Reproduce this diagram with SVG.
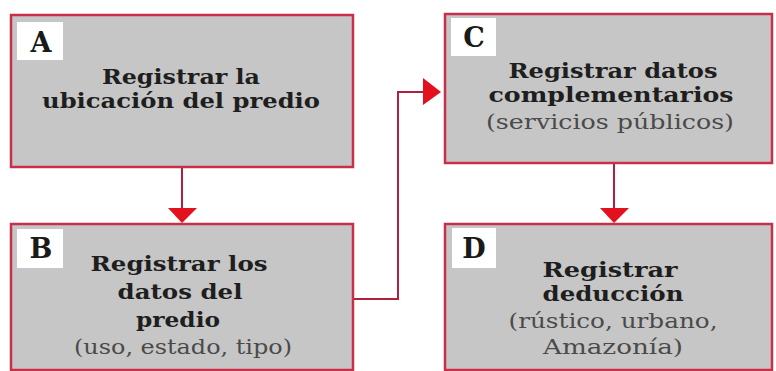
<svg xmlns="http://www.w3.org/2000/svg" width="776" height="371" viewBox="0 0 776 371">
<defs>
<style>
.box{fill:#c6c6c6;stroke:#c8304a;stroke-width:2.5}
.tag{fill:#ffffff}
.letter{font-family:"DejaVu Serif",serif;font-weight:bold;font-size:27px;fill:#1a1a1a;text-anchor:middle}
.t{font-family:"DejaVu Serif",serif;font-weight:bold;font-size:20px;fill:#1e1e1e;text-anchor:middle}
.s{font-family:"DejaVu Serif",serif;font-size:20px;fill:#4a4a4a;text-anchor:middle}
.line{fill:none;stroke:#b0203c;stroke-width:2}
.head{fill:#e3101e}
</style>
</defs>
<rect width="776" height="371" fill="#ffffff"/>
<g id="connectors">
<line class="line" x1="182" y1="167" x2="182" y2="210"/>
<polygon class="head" points="168,208 197,208 182,223"/>
<polyline class="line" points="353,299 398,299 398,92 424,92"/>
<polygon class="head" points="423,78 423,105 441,92"/>
<line class="line" x1="614" y1="163" x2="614" y2="210"/>
<polygon class="head" points="600,208 629,208 614,223"/>
</g>
<g id="nodeA">
<rect class="box" x="11" y="15" width="342" height="152"/>
<rect class="tag" x="17" y="22" width="46" height="38"/>
<text class="letter" x="41" y="52">A</text>
<text class="t" x="181" y="84" textLength="158" lengthAdjust="spacingAndGlyphs">Registrar la</text>
<text class="t" x="181" y="108" textLength="278" lengthAdjust="spacingAndGlyphs">ubicación del predio</text>
</g>
<g id="nodeB">
<rect class="box" x="11" y="224" width="342" height="146"/>
<rect class="tag" x="17" y="229" width="46" height="39"/>
<text class="letter" x="41" y="258">B</text>
<text class="t" x="179" y="271" textLength="177" lengthAdjust="spacingAndGlyphs">Registrar los</text>
<text class="t" x="180" y="299" textLength="125" lengthAdjust="spacingAndGlyphs">datos del</text>
<text class="t" x="178" y="327" textLength="84" lengthAdjust="spacingAndGlyphs">predio</text>
<text class="s" x="183" y="354" textLength="218" lengthAdjust="spacingAndGlyphs">(uso, estado, tipo)</text>
</g>
<g id="nodeC">
<rect class="box" x="445" y="14" width="327" height="149"/>
<rect class="tag" x="451" y="18" width="45" height="38"/>
<text class="letter" x="474" y="47">C</text>
<text class="t" x="613" y="78" textLength="209" lengthAdjust="spacingAndGlyphs">Registrar datos</text>
<text class="t" x="611" y="102" textLength="245" lengthAdjust="spacingAndGlyphs">complementarios</text>
<text class="s" x="610" y="129" textLength="248" lengthAdjust="spacingAndGlyphs">(servicios públicos)</text>
</g>
<g id="nodeD">
<rect class="box" x="445" y="224" width="327" height="146"/>
<rect class="tag" x="452" y="228" width="44" height="40"/>
<text class="letter" x="474" y="258">D</text>
<text class="t" x="610" y="277" textLength="135" lengthAdjust="spacingAndGlyphs">Registrar</text>
<text class="t" x="613" y="301" textLength="141" lengthAdjust="spacingAndGlyphs">deducción</text>
<text class="s" x="613" y="328" textLength="209" lengthAdjust="spacingAndGlyphs">(rústico, urbano,</text>
<text class="s" x="613" y="354" textLength="140" lengthAdjust="spacingAndGlyphs">Amazonía)</text>
</g>
</svg>
